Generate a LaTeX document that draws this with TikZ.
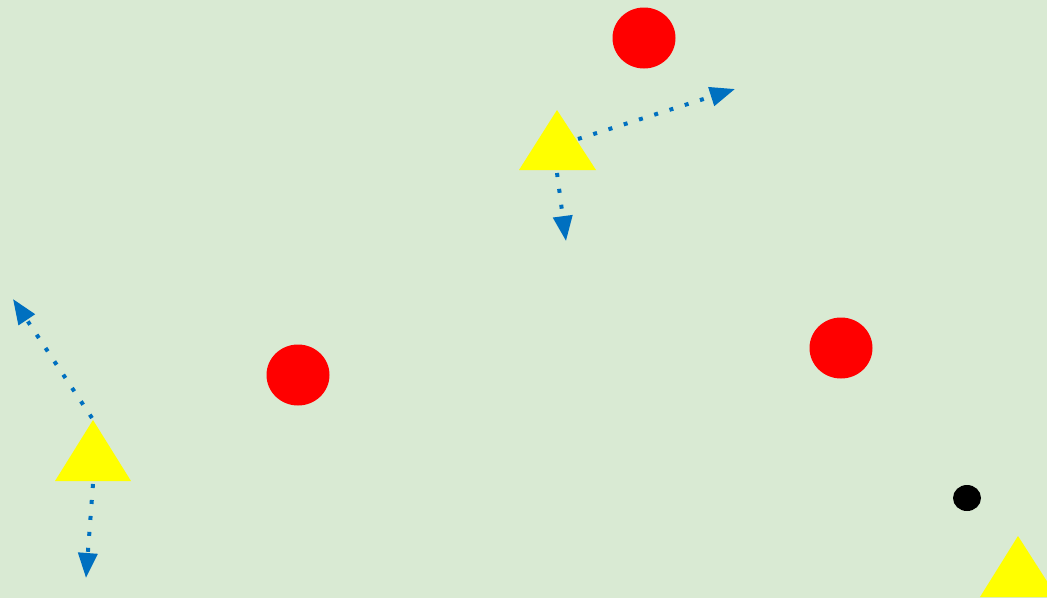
\documentclass[tikz,border=0pt]{standalone}
\usetikzlibrary{arrows.meta}
\definecolor{bg}{HTML}{D9EAD3}
\definecolor{arrowblue}{HTML}{0070C0}
\definecolor{ballred}{RGB}{255,0,0}
\definecolor{triyellow}{RGB}{255,255,0}
\begin{document}
\begin{tikzpicture}[x=1pt,y=-1pt,
  redball/.style={fill=ballred,draw=none},
  tri/.style={fill=triyellow,draw=none},
  move/.style={draw=arrowblue,line width=4pt,dash pattern=on 4pt off 12pt,
    -{Triangle[length=25pt,width=19pt]}}]
\fill[bg] (0,0) rectangle (1047,598);
\useasboundingbox (0,0) rectangle (1047,598);
% red balls
\fill[redball] (644,38) ellipse [x radius=31.5,y radius=30.5];
\fill[redball] (298,375) ellipse [x radius=31.5,y radius=30.5];
\fill[redball] (841,348) ellipse [x radius=31.5,y radius=30.5];
% black dot
\fill[black] (967,498) ellipse [x radius=14,y radius=13];
% triangles
\fill[tri] (557,110) -- (596,170) -- (519,170) -- cycle;
\fill[tri] (93,420) -- (131,481) -- (55,481) -- cycle;
\fill[tri] (1018,536) -- (1057,597) -- (980,597) -- cycle;
% coordinates
\coordinate (a1s) at (578,139);
\coordinate (a1e) at (735,89);
\coordinate (a2s) at (557,173);
\coordinate (a2e) at (566,241);
\coordinate (b1s) at (92,418);
\coordinate (b1e) at (13,299);
\coordinate (b2s) at (93,484);
\coordinate (b2e) at (86,578);
\draw[move] (a1s) -- (a1e);
\draw[move] (a2s) -- (a2e);
\draw[move] (b1s) -- (b1e);
\draw[move] (b2s) -- (b2e);
\end{tikzpicture}
\end{document}
